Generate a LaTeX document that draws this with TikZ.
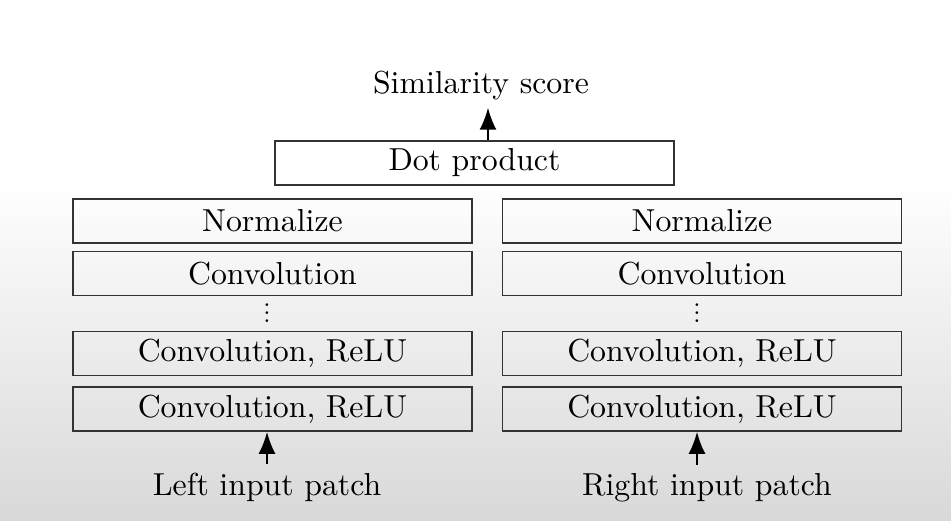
\documentclass[tikz,border=0pt]{standalone}
\usepackage{amsmath}
\usepackage{amssymb}
\usepackage{fontspec}
\setmainfont{lmroman10-regular}[Extension=.otf]
\usepackage{tikz}
\usetikzlibrary{arrows.meta}

\tikzset{
	layer/.style={draw=black!80, line width=1.7pt, minimum width=399pt, minimum height=44pt, inner sep=0pt},
	arr/.style={line width=1.8pt, -{Latex[length=22pt,width=17pt]}},
	lbl/.style={anchor=base, inner sep=8pt},
	vdts/.style={font=\fontsize{13}{15}\selectfont, scale=2, inner sep=0pt}
}

\begin{document}
\begin{tikzpicture}[x=1pt, y=-1pt, font=\fontsize{31.8}{38}\selectfont]
					\useasboundingbox (0,0) rectangle (951,520);
					\fill[white] (0,0) rectangle (951,181);
					\shade[top color=white, bottom color=black!15] (0,180) rectangle (951,520);

					\node[lbl] (score) at (481, 93) {Similarity score};
					\node[layer] (dot) at (474.5, 163) {Dot product};

					\node[layer] (lnorm) at (272.5, 221) {Normalize};
					\node[layer] (lconv) at (272.5, 273.5) {Convolution};
					\node[vdts] (ldots) at (267, 307) {$\vdots$};
					\node[layer] (lrelu1) at (272.5, 353.5) {Convolution, ReLU};
					\node[layer] (lrelu2) at (272.5, 409) {Convolution, ReLU};
					\node[lbl] (linput) at (267, 495) {Left input patch};

					\node[layer] (rnorm) at (702, 221) {Normalize};
					\node[layer] (rconv) at (702, 273.5) {Convolution};
					\node[vdts] (rdots) at (697, 307) {$\vdots$};
					\node[layer] (rrelu1) at (702, 353.5) {Convolution, ReLU};
					\node[layer] (rrelu2) at (702, 409) {Convolution, ReLU};
					\node[lbl] (rinput) at (707, 495) {Right input patch};


					\draw[arr] ([xshift=13.5pt]dot.north) to ([xshift=13.5pt]dot.north |- score.south);

					\draw[arr] (linput.north) to (linput.north |- lrelu2.south);

					\draw[arr] ([xshift=-10pt]rinput.north) to ([xshift=-10pt]rinput.north |- rrelu2.south);
				\end{tikzpicture}
\end{document}
